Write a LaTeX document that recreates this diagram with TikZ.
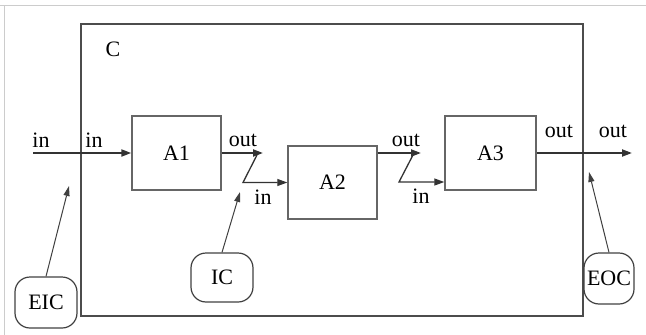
\documentclass[tikz,border=0pt]{standalone}
\usepackage{fontspec}
\setmainfont{Liberation Serif}
\usetikzlibrary{arrows.meta,positioning}

\begin{document}
\begin{tikzpicture}[x=1pt,y=-1pt,
  atomic/.style={
    draw=black!60, line width=1.4pt,
    minimum width=89pt, minimum height=74pt,
    inner sep=0pt, font=\fontsize{22}{26}\selectfont},
  coupling/.style={
    draw=black!75, line width=1.2pt, rounded corners=15pt,
    minimum height=50pt, inner sep=0pt,
    font=\fontsize{22}{26}\selectfont},
  port/.style={font=\fontsize{22}{26}\selectfont, inner sep=0pt},
  flow/.style={-{Triangle[length=10pt,width=7pt]}, line width=2pt,
    black!80},
  link/.style={-{Triangle[length=10pt,width=7pt]}, line width=1.3pt,
    black!80},
  ptr/.style={-{Triangle[length=10pt,width=6pt]}, line width=1pt,
    black!75}]

\useasboundingbox (0,0) rectangle (646,335);
\draw[black!20, line width=1pt] (0,5) -- (646,5);
\draw[black!20, line width=1pt] (4,5) -- (4,335);

% Coupled model C
\node[draw=black!70, line width=2pt, minimum width=502pt,
  minimum height=292pt, inner sep=0pt] (cm) at (331.5,170) {};
\node[port] (cname) at (113,49) {C};

% Atomic models
\node[atomic] (a1) at (176.5,153) {A1};
\node[atomic, minimum height=73pt] (a2) at (332.5,182.5) {A2};
\node[atomic, minimum width=91pt] (a3) at (490.5,153) {A3};

% Coupling tags
\node[coupling, minimum width=62pt, minimum height=51pt] (eic) at (46,302.5) {EIC};
\node[coupling, minimum width=62pt, minimum height=49pt] (ic) at (222,277.5) {IC};
\node[coupling, minimum width=50pt, minimum height=51pt] (eoc) at (609,278.5) {EOC};

% Port coordinates
\coordinate (xin) at (33,153);
\coordinate (o1) at (263,153);
\coordinate (z1) at (257,155);
\coordinate (o2) at (421,153);
\coordinate (z2) at (413,155);
\coordinate (xout) at (632,153);

% Couplings
\draw[flow] (xin) -- (a1.west);
\draw[flow] (a1.east) -- (o1);
\draw[link] (z1) -- (243,182.5) -- (a2.west);
\draw[flow] (a2.east |- o2) -- (o2);
\draw[link] (z2) -- (399,182) -- (a3.west |- 0,182);
\draw[flow] (a3.east) -- (xout);

% Port labels
\node[port] (l1) at (41,140) {in};
\node[port] (l2) at (94,140) {in};
\node[port] (l3) at (243,140) {out};
\node[port] (l4) at (263,197) {in};
\node[port] (l5) at (406,140) {out};
\node[port] (l6) at (421,196) {in};
\node[port] (l7) at (559,131) {out};
\node[port] (l8) at (613,131) {out};

% Pointers to the couplings
\coordinate (peic) at (69,186);
\coordinate (pic) at (240,192);
\coordinate (peoc) at (589,172);
\draw[ptr] (eic.north) -- (peic);
\draw[ptr] (ic.north) -- (pic);
\draw[ptr] (eoc.north) -- (peoc);

\end{tikzpicture}
\end{document}
